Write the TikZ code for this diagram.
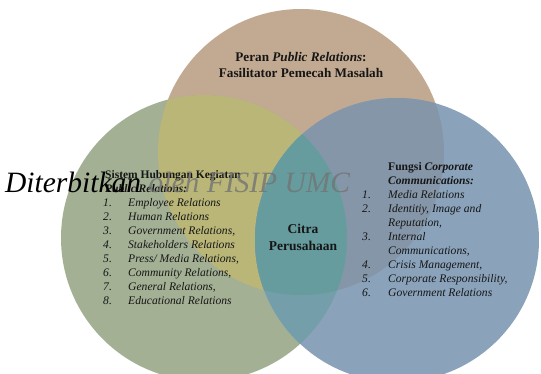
\documentclass[tikz,border=0pt]{standalone}
\usepackage{fontspec}
\setmainfont{Liberation Serif}
\usepackage{array}
\usepackage{tikz}
\usetikzlibrary{positioning}
\definecolor{prtan}{RGB}{194,170,146}
\definecolor{sysgreen}{RGB}{163,176,148}
\definecolor{corpblue}{RGB}{138,163,187}
\definecolor{tangreen}{RGB}{185,182,120}
\definecolor{tanblue}{RGB}{133,150,168}
\definecolor{greenblue}{RGB}{116,158,170}
\definecolor{allthree}{RGB}{102,156,158}
\definecolor{inktext}{RGB}{22,22,22}

\begin{document}
\begin{tikzpicture}[x=1pt, y=-1pt]
\tikzset{
  lst/.style={anchor=north west, inner sep=0pt, align=left, text=inktext, font=\fontsize{11.6}{14}\selectfont},
  hd/.style={inner sep=0pt, align=center, text=inktext, font=\bfseries\fontsize{13.2}{16}\selectfont},
  wmark/.style={anchor=base west, inner sep=0pt, font=\itshape\fontsize{29.5}{30}\selectfont}
}
\useasboundingbox (0,0) rectangle (541,374);
\coordinate (cT) at (301,152);
\coordinate (cL) at (204,238);
\coordinate (cR) at (397,240);
% circles and their overlaps
\fill[prtan] (cT) circle[radius=143pt];
\fill[sysgreen] (cL) circle[radius=143pt];
\begin{scope}
  \clip (cT) circle[radius=143pt];
  \fill[tangreen] (cL) circle[radius=143pt];
\end{scope}
\fill[corpblue] (cR) circle[radius=142pt];
\begin{scope}
  \clip (cT) circle[radius=143pt];
  \fill[tanblue] (cR) circle[radius=142pt];
\end{scope}
\begin{scope}
  \clip (cL) circle[radius=143pt];
  \fill[greenblue] (cR) circle[radius=142pt];
\end{scope}
\begin{scope}
  \clip (cT) circle[radius=143pt];
  \clip (cL) circle[radius=143pt];
  \fill[allthree] (cR) circle[radius=142pt];
\end{scope}
% texts
\node[hd] (peran) at (301,65) {Peran \textit{Public Relations}:\\Fasilitator Pemecah Masalah};
\node[hd, font=\bfseries\fontsize{13.5}{17}\selectfont] (citra) at (303,237.5) {Citra\\Perusahaan};
\node[lst] (sistem) at (103,168.5) {\begin{tabular}{@{}>{\itshape}p{25pt}@{}>{\itshape}l@{}}
\multicolumn{2}{@{}l@{}}{\hspace{2pt}\fontsize{11.5}{14}\selectfont\bfseries Sistem Hubungan Kegiatan}\\
\multicolumn{2}{@{}l@{}}{\hspace{2pt}\fontsize{11.5}{14}\selectfont\bfseries\itshape Public Relations:}\\
1. & Employee Relations\\
2. & Human Relations\\
3. & Government Relations,\\
4. & Stakeholders Relations\\
5. & Press/ Media Relations,\\
6. & Community Relations,\\
7. & General Relations,\\
8. & Educational Relations
\end{tabular}};
\node[lst] (fungsi) at (362,161) {\begin{tabular}{@{}>{\itshape}p{26pt}@{}>{\itshape}l@{}}
 & \upshape\bfseries Fungsi \textit{Corporate}\\
 & \bfseries Communications:\\
1. & Media Relations\\
2. & Identitiy, Image and\\
 & Reputation,\\
3. & Internal\\
 & Communications,\\
4. & Crisis Management,\\
5. & Corporate Responsibility,\\
6. & Government Relations
\end{tabular}};
% watermark
\node[wmark] (wm) at (5,193) {Diterbitkan};
\node[wmark, text=black!55, text opacity=0.8] (wm2) at ([xshift=7pt]wm.base east) {oleh FISIP UMC};
\end{tikzpicture}
\end{document}
